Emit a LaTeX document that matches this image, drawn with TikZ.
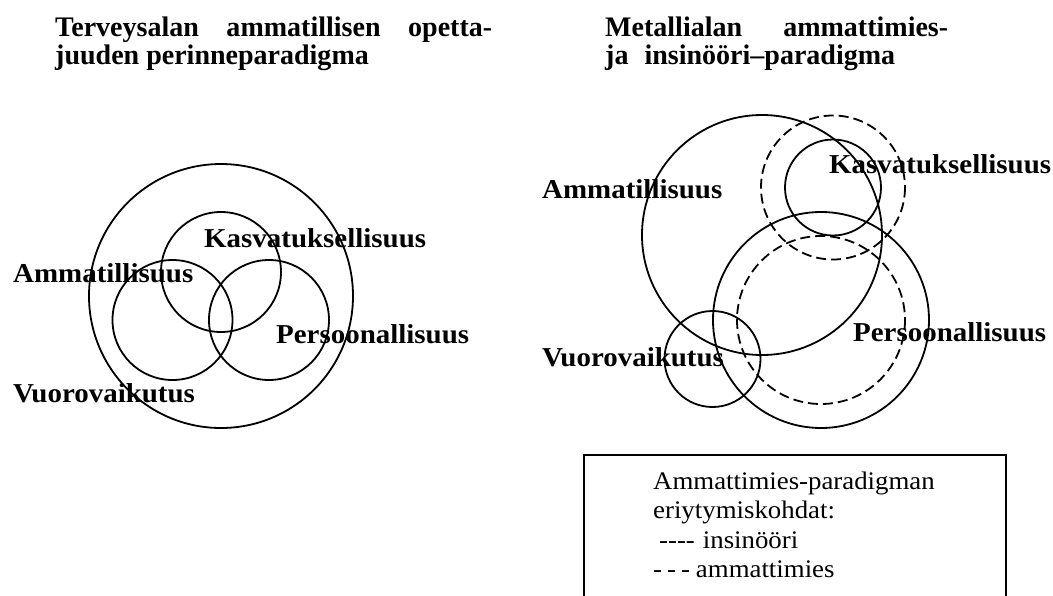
\documentclass[tikz,border=0pt]{standalone}
\usepackage{fontspec}
\setmainfont{Liberation Serif}[FakeStretch=1.06]
\newfontfamily\titlefont{Liberation Serif}[FakeStretch=0.99]
\newcommand{\hy}{\mbox{-}}
\tikzset{
  ring/.style={line width=1.8pt},
  dashring/.style={line width=1.8pt, dash pattern=on 10pt off 5pt},
  lbl/.style={anchor=base west, inner sep=0pt, font=\fontsize{27.3}{30}\selectfont\bfseries},
  ttl/.style={anchor=base west, inner sep=0pt, font=\titlefont\fontsize{28.3}{30}\selectfont\bfseries},
  leg/.style={anchor=base west, inner sep=0pt, font=\fontsize{25.3}{29.5}\selectfont},
  legbox/.style={line width=1.8pt}
}
\begin{document}
\begin{tikzpicture}[x=1pt,y=-1pt]
\clip (0,0) rectangle (1053,595);
\fill[white] (0,0) rectangle (1053,595);

% ---- titles
\node[ttl] (t1a) at (55,36) {\makebox[437pt][s]{Terveysalan ammatillisen opetta-}};
\node[ttl] (t1b) at (55,64) {juuden perinneparadigma};
\node[ttl] (t2a) at (605,36) {\makebox[343pt][s]{Metallialan ammattimies-}};
\node[ttl] (t2b) at (605,64) {ja\hspace{16pt}insinööri–paradigma};

% ---- traditional paradigm: three overlapping circles inside a big one
\coordinate (Lbig) at (221,296);
\coordinate (Ltop) at (221,272);
\coordinate (Lleft) at (172.5,320);
\coordinate (Lright) at (269,320);
\draw[ring] (Lbig) circle (132);
\draw[ring] (Ltop) circle (60);
\draw[ring] (Lleft) circle (60);
\draw[ring] (Lright) circle (60);

\node[lbl] (lk) at (204,247) {Kasvatuksellisuus};
\node[lbl] (la) at (13,282) {Ammatillisuus};
\node[lbl] (lp) at (276,343) {Persoonallisuus};
\node[lbl] (lv) at (13,402) {Vuorovaikutus};

% ---- metal trade paradigm
\coordinate (Ramm) at (762,235);
\coordinate (Rkas) at (833,187.5);
\coordinate (Rper) at (821,320);
\coordinate (Rvuo) at (712.5,359);
\draw[ring] (Ramm) circle (120);
\draw[ring] (Rkas) circle (48);
\draw[dashring] (Rkas) circle (72);
\draw[ring] (Rper) circle (108);
\draw[dashring] (Rper) circle (84);
\draw[ring] (Rvuo) circle (48);

\node[lbl] (ra) at (542,198) {Ammatillisuus};
\node[lbl] (rk) at (829,173) {Kasvatuksellisuus};
\node[lbl] (rp) at (853,341) {Persoonallisuus};
\node[lbl] (rv) at (542,366) {Vuorovaikutus};

% ---- legend
\draw[legbox] (584,455) rectangle (1006,610);
\node[leg] (leg1) at (653,489) {Ammattimies-paradigman};
\node[leg] (leg2) at (653,518.5) {eriytymiskohdat:};
\node[leg] (leg3) at (659,548) {\hy\hy\hy\hy\hspace{8pt}insinööri};
\node[leg] (leg4) at (653,577.5) {\hy\hspace{5pt}\hy\hspace{5pt}\hy\hspace{6pt}ammattimies};
\end{tikzpicture}
\end{document}
